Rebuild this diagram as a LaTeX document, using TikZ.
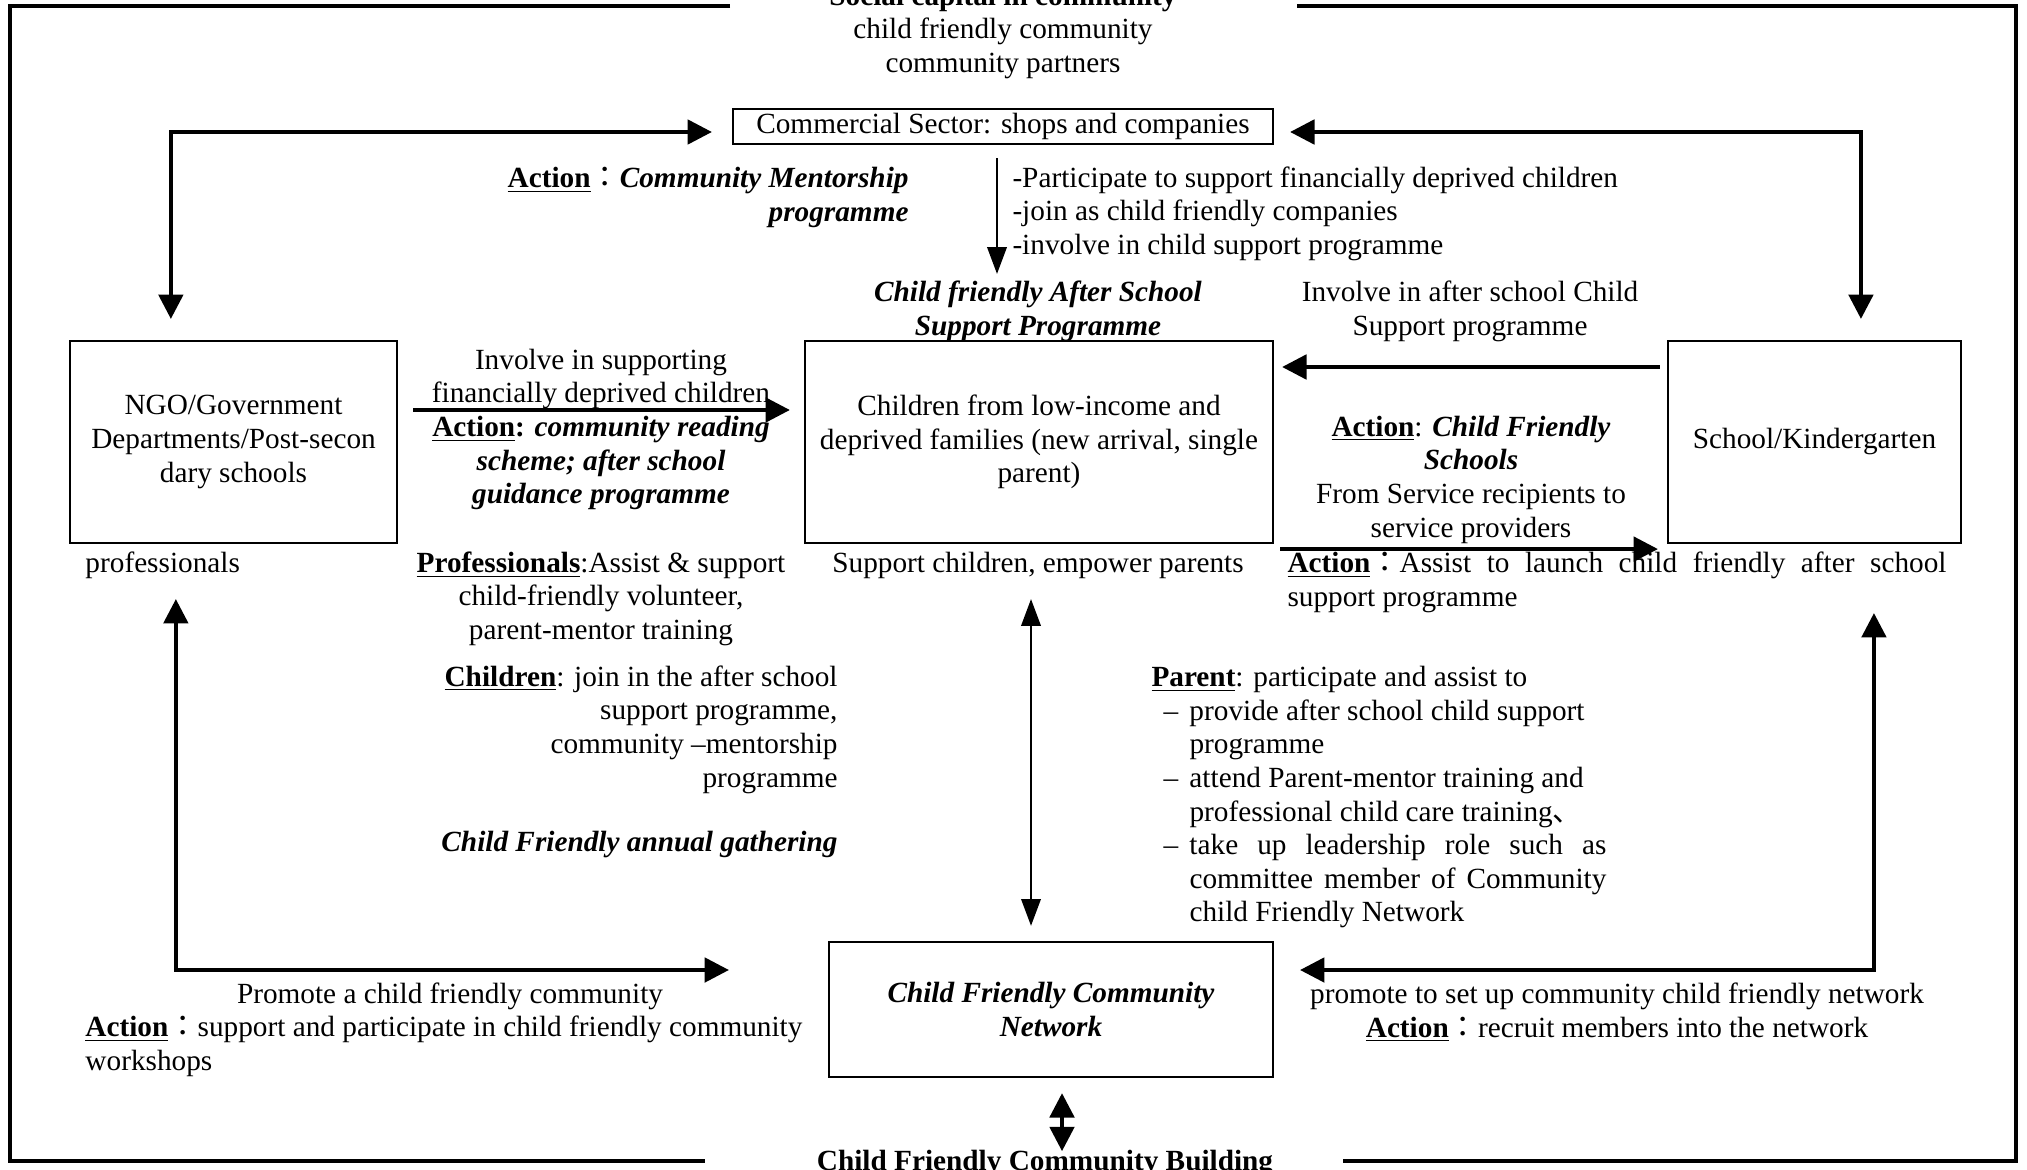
\documentclass[tikz,border=0pt]{standalone}
\usepackage{fontspec}
\setmainfont{Liberation Serif}
\newfontfamily\cjk{Noto Sans CJK TC}
\newfontfamily\cjksc{Noto Sans CJK SC}
\usepackage{tikz}
\usetikzlibrary{arrows.meta, calc}
\newcommand{\uword}[1]{\underline{\textbf{#1}}}
\newcommand{\bfit}[1]{\textbf{\textit{#1}}}
\newcommand{\fcolon}{{\cjk ：}}
\newcommand{\pitem}{\hangindent=10.66pt\hangafter=1\noindent\makebox[10.66pt][l]{–}}
\tikzstyle{box} = [rectangle, draw=black, line width=0.9pt, inner sep=0pt, align=center]
\tikzstyle{txt} = [inner sep=0pt, align=center, anchor=base, yshift=-1pt]
\tikzstyle{arrow} = [line width=1.6pt, -{Triangle[length=10pt, width=10pt]}]
\tikzstyle{dblarrow} = [line width=1.6pt, {Triangle[length=10pt, width=10pt]}-{Triangle[length=10pt, width=10pt]}]
\tikzstyle{thinarrow} = [line width=0.8pt, -{Triangle[length=11pt, width=8pt]}]
\tikzstyle{thindblarrow} = [line width=0.8pt, {Triangle[length=11pt, width=8pt]}-{Triangle[length=11pt, width=8pt]}]
\tikzstyle{outerframe} = [line width=1.8pt]

\begin{document}
\begin{tikzpicture}[x=0.41pt, y=-0.41pt, font=\fontsize{12pt}{13.8pt}\selectfont]
    \useasboundingbox (0,0) rectangle (2027,1170);

    % boxes
    \node (comm) [box, minimum width=221.4pt, minimum height=14.35pt] at (1003,126.5) {Commercial Sector: shops and companies};
    \node (ngo) [box, minimum width=134.1pt, minimum height=82.8pt] at (233.5,442) {NGO/Government\\Departments/Post-secon\\dary schools};
    \node (kids) [box, minimum width=191.9pt, minimum height=82.8pt] at (1039,442) {Children from low-income and\\deprived families (new arrival, single\\parent)};
    \node (school) [box, minimum width=120.1pt, minimum height=82.8pt] at (1814.5,442) {School/Kindergarten};
    \node (network) [box, minimum width=182pt, minimum height=55.4pt] at (1051,1009.5) {\bfit{Child Friendly Community}\\\bfit{Network}};

    % texts (multi-line nodes sit on the baseline of their last line)
    \node (social) [txt] at (1003,70.2) {\textbf{Social capital in community}\\child friendly community\\community partners};
    \node (mentor) [txt, anchor=base east, align=right] at (909,218.6) {\uword{Action}\fcolon\bfit{Community Mentorship}\\\bfit{programme}};
    \node (commtext) [txt, anchor=base west, align=left] at (1012,252.2) {-Participate to support financially deprived children\\-join as child friendly companies\\-involve in child support programme};
    \node (aftersch) [txt] at (1038,332.6) {\bfit{Child friendly After School}\\\bfit{Support Programme}};
    \node (involve) [txt] at (1470,332.6) {Involve in after school Child\\Support programme};
    \node (ngotext) [txt] at (601,501.4) {Involve in supporting\\financially deprived children\\\uword{Action}\textbf{:} \bfit{community reading}\\\bfit{scheme; after school}\\\bfit{guidance programme}};
    \node (schooltext) [txt] at (1471,534.8) {\uword{Action}: \bfit{Child Friendly}\\\bfit{Schools}\\From Service recipients to\\service providers};
    \node (prof) [txt, anchor=base west] at (85,570) {professionals};
    \node (proftext) [txt] at (601,637.2) {\uword{Professionals}:Assist \& support\\child-friendly volunteer,\\parent-mentor training};
    \node (empower) [txt] at (1038,570) {Support children, empower parents};
    \node (launch) [txt, anchor=base west, text width=270.2pt, align=justify] at (1287,570) {\uword{Action}\fcolon Assist to launch child friendly after school\linebreak support programme};
    \node (childtext) [txt, anchor=base east, align=right] at (838,784.8) {\uword{Children}: join in the after school\\support programme,\\community –mentorship\\programme};
    \node (gathering) [txt, anchor=base east] at (838,849) {\bfit{Child Friendly annual gathering}};
    \node (parent) [txt, anchor=base west] at (1151,684) {\uword{Parent}: participate and assist to};
    \node (parentlist) [txt, anchor=base west, text width=181.6pt, align=justify] at (1163,717.6) {\pitem provide after school child support\newline programme\par
        \pitem attend Parent-mentor training and\newline professional child care training{\cjksc 、}\par
        \pitem take up leadership role such as\linebreak committee member of Community\linebreak child Friendly Network\par};
    \node (promote) [txt] at (450,1001) {Promote a child friendly community};
    \node (workshop) [txt, anchor=base west, align=left] at (85,1067.6) {\uword{Action}\fcolon support and participate in child friendly community\\workshops};
    \node (recruit) [txt] at (1617,1034.6) {promote to set up community child friendly network\\\uword{Action}\fcolon recruit members into the network};
    \node (building) [txt] at (1045,1168) {\textbf{Child Friendly Community Building}};

    % outer frame
    \draw [outerframe] (730,6) -- (10,6) -- (10,1161) -- (705,1161);
    \draw [outerframe] (1297,6) -- (2016,6) -- (2016,1161) -- (1343,1161);

    % connectors
    \draw [dblarrow] ($(comm.west)+(-20,5.5)$) -| ($(ngo.north west)+(102,-21)$);
    \draw [dblarrow] ($(comm.east)+(16,5.5)$) -| ($(school.north west)+(194,-21)$);
    \draw [thinarrow] ($(comm.south)+(-6,13)$) -- ($(kids.north)+(-42,-66)$);
    \draw [arrow] ($(ngo.east)+(15,-32)$) -- ($(kids.west)+(-14,-32)$);
    \draw [arrow] ($(school.west)+(-7,-75)$) -- ($(kids.east)+(8,-75)$);
    \draw [arrow] ($(kids.south east)+(6,5)$) -- ($(school.south west)+(-9,5)$);
    \draw [thindblarrow] ($(kids.south)+(-8,55)$) -- ($(network.north)+(-20,-15)$);
    \draw [dblarrow] ($(network.west)+(-99,-39.5)$) -| ($(ngo.south west)+(107,55)$);
    \draw [dblarrow] ($(network.east)+(26,-39.5)$) -| ($(school.south west)+(207,69)$);
    \draw [dblarrow] ($(network.south)+(11,15)$) -- ($(network.south)+(11,73)$);
\end{tikzpicture}
\end{document}
